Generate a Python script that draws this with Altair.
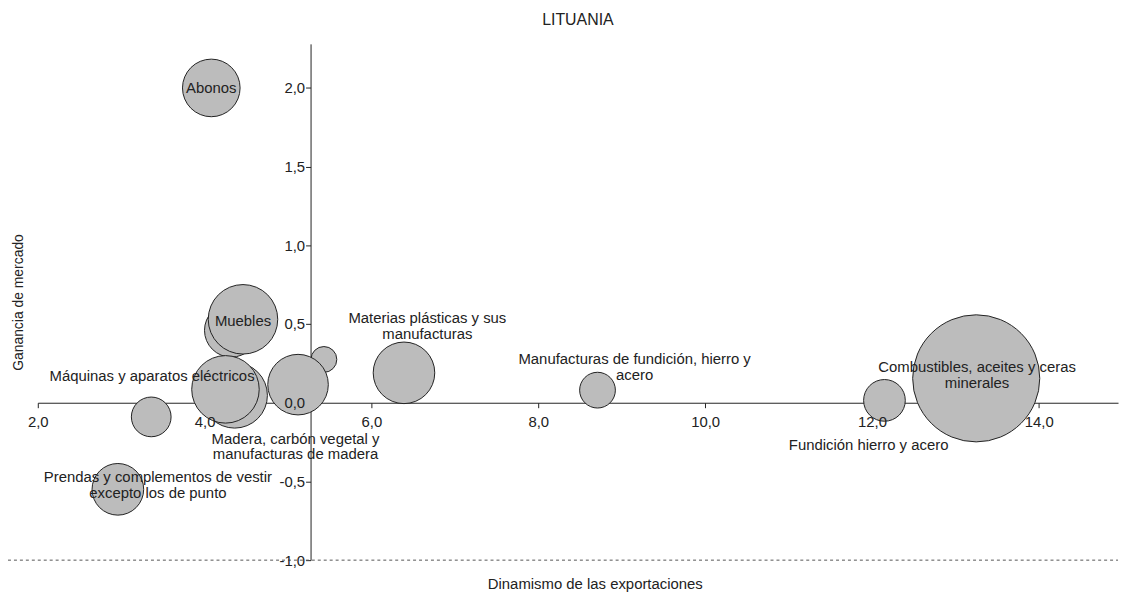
import altair as alt
import pandas as pd

# --- data ---
sectores = [
    "Sector (detrás de Muebles)", "Muebles", "Abonos",
    "Sector (detrás de Máquinas)", "Máquinas y aparatos eléctricos",
    "Sector 3,4", "Prendas y complementos de vestir", "Sector 5,4",
    "Madera, carbón vegetal y manufacturas de madera",
    "Materias plásticas y sus manufacturas",
    "Manufacturas de fundición, hierro y acero",
    "Fundición hierro y acero", "Combustibles, aceites y ceras minerales",
]
dinamismo = [4.32, 4.46, 4.08, 4.36, 4.25, 3.36, 2.96, 5.43, 5.12, 6.39, 8.71, 12.15, 13.25]
ganancia = [0.46, 0.53, 2.00, 0.047, 0.085, -0.09, -0.55, 0.275, 0.115, 0.19, 0.08, 0.015, 0.155]
peso = [729, 1225, 841, 1089, 1156, 400, 676, 169, 930, 961, 324, 441, 4096]

etiquetas = [
    "Abonos", "Muebles", "Materias plásticas y sus\nmanufacturas",
    "Manufacturas de fundición, hierro y\nacero",
    "Combustibles, aceites y ceras\nminerales", "Fundición hierro y acero",
    "Máquinas y aparatos eléctricos",
    "Madera, carbón vegetal y\nmanufacturas de madera",
    "Prendas y complementos de vestir\nexcepto los de punto",
]
etiqueta_x = [4.08, 4.46, 6.67, 9.155, 13.26, 11.96, 3.37, 5.09, 3.44]
etiqueta_y = [2.00, 0.52, 0.535, 0.275, 0.225, -0.27, 0.167, -0.228, -0.47]

x_ticks = [2, 4, 6, 8, 10, 12, 14]
y_ticks = [-1.0, -0.5, 0.0, 0.5, 1.0, 1.5, 2.0]
x_dominio = [2, 14.95]
y_dominio = [-1, 2.28]
cruce_x = 5.27   # x value where the vertical axis crosses
linea_base = [-1.0]

titulo = "LITUANIA"
titulo_x = "Dinamismo de las exportaciones"
titulo_y = "Ganancia de mercado"

# --- layout ---
W, H = 1088, 520
FONT = "Liberation Sans"
INK = "#222222"
FS = 15

bubbles = pd.DataFrame({"sector": sectores, "x": dinamismo, "y": ganancia, "peso": peso})
labels = pd.DataFrame({"texto": etiquetas, "x": etiqueta_x, "y": etiqueta_y})
base_df = pd.DataFrame({"y": linea_base})

xscale = alt.Scale(domain=x_dominio, nice=False, zero=False)
yscale = alt.Scale(domain=y_dominio, nice=False, zero=False)

y0_px = H * (y_dominio[1] - 0) / (y_dominio[1] - y_dominio[0])      # plot y of value 0
x_off = -(H - y0_px)
xc_px = W * (cruce_x - x_dominio[0]) / (x_dominio[1] - x_dominio[0])
y_off = -xc_px

fmt = "replace(replace(format(datum.value, '.1f'), '.', ','), '\u2212', '-')"

x_axis_lines = alt.Axis(
    orient="bottom", offset=x_off, values=x_ticks, labels=False, grid=False,
    domainColor=INK, tickColor=INK, tickSize=5, zindex=0,
    title=titulo_x, titleFont=FONT, titleFontSize=FS, titleFontWeight="normal",
    titleColor=INK, titleX=561, titleY=(586 - 42) - y0_px, titleBaseline="middle",
    titleAnchor="middle", titleAlign="center",
)
y_axis_lines = alt.Axis(
    orient="left", offset=y_off, values=y_ticks, labels=False, grid=False,
    domainColor=INK, tickColor=INK, tickSize=5, zindex=0,
    title=titulo_y, titleFont=FONT, titleFontSize=14, titleFontWeight="normal",
    titleColor=INK, titleX=-(xc_px + 19), titleY=H / 2, titleBaseline="middle",
    titleAlign="center", titleAngle=270,
)
x_axis_labels = alt.Axis(
    orient="bottom", offset=x_off, values=x_ticks, domain=False, ticks=False,
    grid=False, labelPadding=12, labelExpr=fmt, labelFont=FONT,
    labelFontSize=FS, labelColor=INK, title=None, zindex=1, labelFlush=False,
)
y_axis_labels = alt.Axis(
    orient="left", offset=y_off, values=y_ticks, domain=False, ticks=False,
    grid=False, labelPadding=6, labelExpr=fmt, labelFont=FONT,
    labelFontSize=FS, labelColor=INK, title=None, zindex=1, labelFlush=False,
)

circles = alt.Chart(bubbles).mark_circle(
    fill="#bcbcbc", stroke=INK, strokeWidth=1, opacity=1
).encode(
    x=alt.X("x:Q", scale=xscale, axis=x_axis_lines),
    y=alt.Y("y:Q", scale=yscale, axis=y_axis_lines),
    size=alt.Size("peso:Q", scale=alt.Scale(type="linear", domain=[0, 4096], range=[0, 16384]),
                  legend=None),
)

texts = alt.Chart(labels).mark_text(
    font=FONT, fontSize=FS, color=INK, align="center", baseline="middle",
    lineBreak="\n", lineHeight=16,
).encode(
    x=alt.X("x:Q", scale=xscale, axis=x_axis_labels),
    y=alt.Y("y:Q", scale=yscale, axis=y_axis_labels),
    text="texto:N",
)

rule = alt.Chart(base_df).mark_rule(color="#555555", strokeDash=[3, 3], strokeWidth=1).encode(
    y=alt.Y("y:Q", scale=yscale, axis=None),
    x=alt.value(-30),
    x2=alt.value(W),
)

chart = alt.layer(rule, circles, texts).resolve_axis(
    x="independent", y="independent"
).properties(
    width=W, height=H,
    title=alt.Title(titulo, font=FONT, fontSize=16, fontWeight="normal", color=INK,
                    anchor="middle", baseline="middle", offset=8, frame="group"),
    autosize=alt.AutoSizeParams(type="none"),
    padding={"left": 30, "top": 34, "right": 3, "bottom": 34},
).configure_view(stroke=None)

chart.save("out.html", embed_options={"renderer": "svg", "actions": False})
